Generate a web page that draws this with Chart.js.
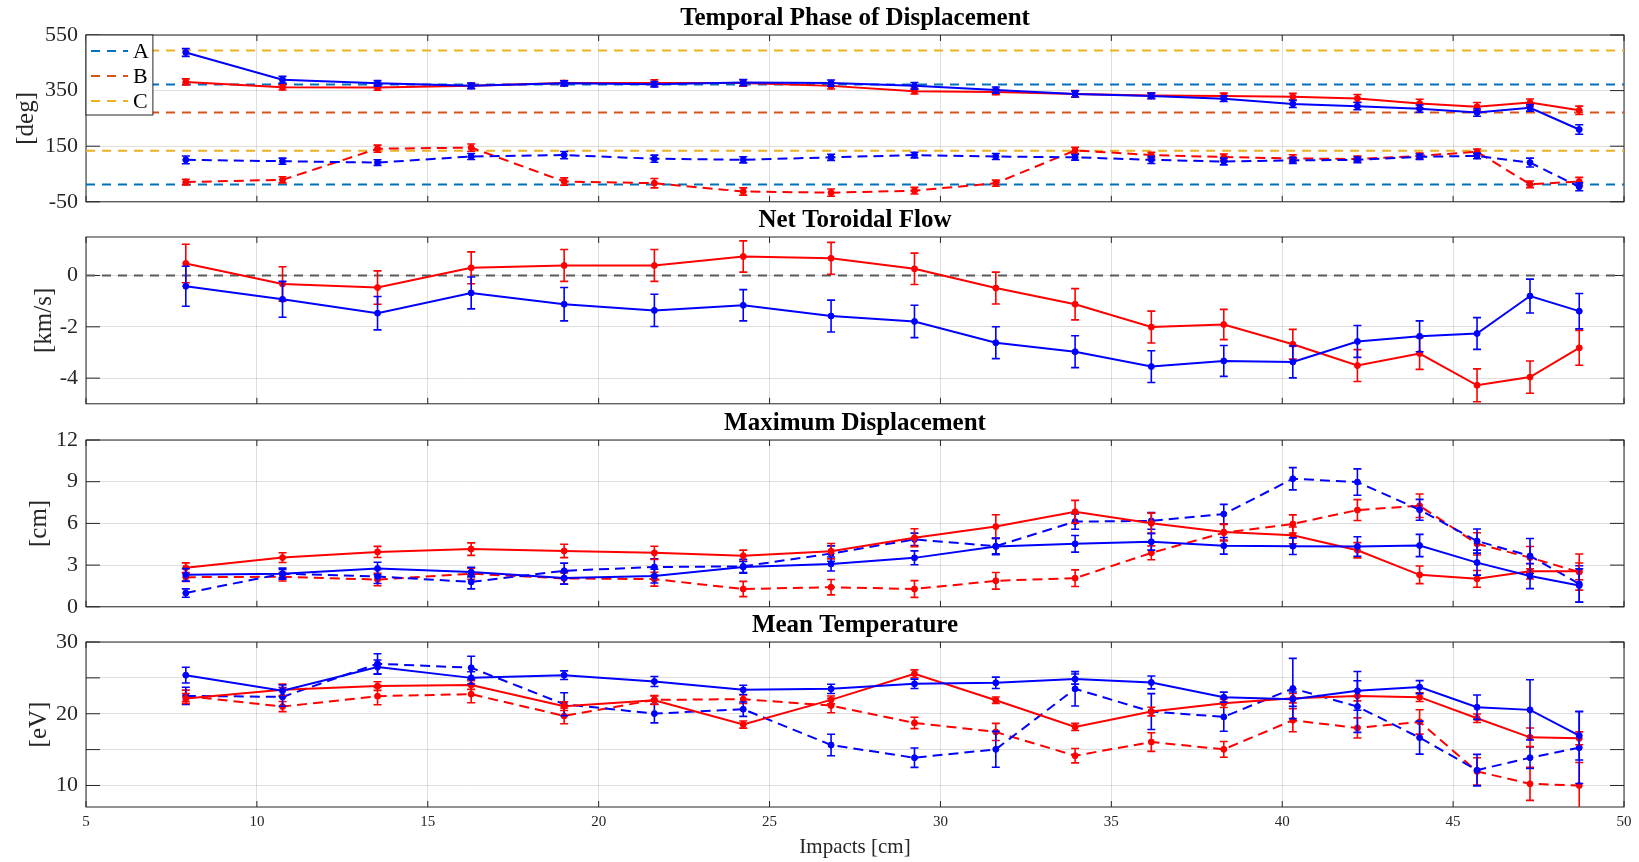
<!DOCTYPE html>
<html>
<head>
<meta charset="utf-8">
<title>Displacement, flow and temperature vs impact</title>
<script src="https://cdn.jsdelivr.net/npm/chart.js@4.4.1/dist/chart.umd.min.js"></script>
<style>
    html, body { margin: 0; padding: 0; background: #fff; }
    body { position: relative; width: 1639px; height: 862px; overflow: hidden; }
    canvas { position: absolute; left: 0; }
</style>
</head>
<body>
<canvas id="phase-chart" width="1639" height="223" style="top:0px"></canvas>
<canvas id="flow-chart" width="1639" height="223" style="top:202px"></canvas>
<canvas id="disp-chart" width="1639" height="223" style="top:405px"></canvas>
<canvas id="temp-chart" width="1639" height="255" style="top:607px"></canvas>
<script>

// impact positions [cm], shared by all four panels
const impacts = [7.92, 10.75, 13.53, 16.27, 18.99, 21.63, 24.23, 26.80, 29.24, 31.62,
                 33.94, 36.17, 38.29, 40.31, 42.20, 44.02, 45.70, 47.25, 48.69];
const impactRange = [5, 50];

// temporal phase [deg]
const phaseBlue = [487, 389, 376, 367, 376, 373, 379, 377, 367, 352, 338, 331, 321, 302, 294, 285, 271, 288, 210];
const phaseBlueErr = [14, 12, 10, 10, 9, 10, 11, 11, 12, 11, 11, 10, 10, 13, 13, 13, 13, 12, 17];
const phaseRed = [381, 362, 361, 367, 377, 377, 377, 367, 348, 345, 338, 332, 331, 328, 322, 304, 292, 307, 279];
const phaseRedErr = [11, 10, 10, 9, 9, 12, 11, 11, 10, 10, 12, 10, 10, 12, 14, 15, 15, 13, 15];
const phaseBlueDash = [101, 96, 91, 113, 118, 105, 101, 110, 118, 113, 110, 101, 95, 99, 101, 112, 115, 91, 4];
const phaseBlueDashErr = [14, 11, 10, 11, 13, 13, 11, 11, 10, 11, 10, 13, 12, 11, 10, 10, 10, 16, 14];
const phaseRedDash = [21, 29, 141, 145, 23, 17, -13, -17, -10, 17, 135, 118, 111, 106, 104, 115, 130, 13, 23];
const phaseRedDashErr = [10, 11, 13, 13, 13, 17, 13, 13, 12, 11, 11, 10, 11, 13, 11, 10, 10, 12, 15];
const phaseTicks = [-50, 150, 350, 550];
const refA = [12, 372];
const refB = [271];
const refC = [134, 494];

// net toroidal flow [km/s]
const flowRed = [0.47, -0.33, -0.47, 0.30, 0.39, 0.39, 0.74, 0.67, 0.26, -0.49, -1.12, -2.01, -1.91, -2.68, -3.51, -3.04, -4.28, -3.96, -2.82];
const flowRedErr = [0.75, 0.67, 0.65, 0.62, 0.62, 0.62, 0.61, 0.62, 0.61, 0.62, 0.61, 0.62, 0.59, 0.58, 0.62, 0.62, 0.64, 0.63, 0.68];
const flowBlue = [-0.42, -0.93, -1.47, -0.68, -1.12, -1.36, -1.16, -1.58, -1.79, -2.62, -2.97, -3.55, -3.33, -3.37, -2.57, -2.37, -2.26, -0.80, -1.39];
const flowBlueErr = [0.78, 0.70, 0.65, 0.62, 0.65, 0.63, 0.61, 0.62, 0.63, 0.62, 0.62, 0.62, 0.60, 0.62, 0.62, 0.60, 0.62, 0.66, 0.69];
const flowTicks = [-4, -2, 0];

// maximum displacement [cm]
const dispRed = [2.81, 3.54, 3.95, 4.15, 4.02, 3.88, 3.68, 4.00, 4.97, 5.77, 6.84, 6.01, 5.38, 5.14, 4.07, 2.30, 2.01, 2.55, 2.55];
const dispRedErr = [0.35, 0.35, 0.4, 0.45, 0.48, 0.48, 0.4, 0.55, 0.64, 0.85, 0.82, 0.73, 0.58, 0.6, 0.55, 0.63, 0.6, 0.55, 0.6];
const dispBlue = [2.30, 2.38, 2.76, 2.50, 2.08, 2.21, 2.86, 3.08, 3.52, 4.34, 4.53, 4.68, 4.39, 4.36, 4.34, 4.41, 3.18, 2.21, 1.53];
const dispBlueErr = [0.45, 0.4, 0.45, 0.35, 0.45, 0.5, 0.4, 0.5, 0.5, 0.6, 0.6, 0.6, 0.6, 0.6, 0.7, 0.8, 0.9, 0.9, 1.2];
const dispBlueDash = [0.99, 2.38, 2.18, 1.79, 2.59, 2.86, 2.91, 3.83, 4.85, 4.36, 6.13, 6.18, 6.67, 9.21, 8.97, 6.98, 4.73, 3.66, 1.65];
const dispBlueDashErr = [0.3, 0.3, 0.5, 0.5, 0.55, 0.6, 0.5, 0.55, 0.45, 0.55, 0.55, 0.6, 0.7, 0.8, 0.95, 0.75, 0.87, 1.25, 1.3];
const dispRedDash = [2.13, 2.16, 1.96, 2.38, 2.04, 1.99, 1.28, 1.41, 1.28, 1.87, 2.06, 3.88, 5.33, 5.96, 6.96, 7.27, 4.53, 3.54, 2.50];
const dispRedDashErr = [0.3, 0.3, 0.45, 0.4, 0.4, 0.5, 0.55, 0.55, 0.6, 0.6, 0.6, 0.5, 0.6, 0.65, 0.75, 0.85, 0.8, 0.8, 1.3];
const dispTicks = [0, 3, 6, 9, 12];

// mean temperature [eV]
const tempBlue = [25.38, 23.2, 26.5, 25.0, 25.38, 24.5, 23.33, 23.47, 24.17, 24.31, 24.83, 24.36, 22.31, 22.03, 23.19, 23.71, 20.91, 20.54, 16.95];
const tempBlueErr = [1.1, 0.8, 1.0, 0.85, 0.6, 0.7, 0.65, 0.65, 0.65, 0.8, 0.7, 0.9, 0.7, 1.0, 2.7, 0.9, 1.7, 4.2, 3.4];
const tempRed = [22.12, 23.33, 23.85, 23.99, 21.05, 21.89, 18.49, 21.93, 25.57, 21.89, 18.16, 20.30, 21.47, 22.17, 22.49, 22.31, 19.37, 16.71, 16.57];
const tempRedErr = [0.7, 0.8, 0.6, 0.6, 0.6, 0.6, 0.5, 0.55, 0.55, 0.45, 0.5, 0.6, 0.6, 0.65, 0.7, 0.6, 0.6, 1.3, 0.9];
const tempBlueDash = [22.49, 22.35, 26.97, 26.41, 21.33, 20.02, 20.63, 15.64, 13.87, 15.04, 23.47, 20.30, 19.56, 23.52, 21.0, 16.67, 12.14, 13.87, 15.27];
const tempBlueDashErr = [1.2, 1.3, 1.4, 1.6, 1.6, 1.3, 1.0, 1.5, 1.35, 2.5, 2.4, 2.5, 2.0, 4.2, 3.6, 2.3, 2.2, 1.5, 5.0];
const tempRedDash = [22.49, 21.0, 22.45, 22.73, 19.7, 21.93, 22.03, 21.14, 18.72, 17.46, 14.15, 16.06, 15.04, 19.09, 18.02, 18.86, 11.96, 10.23, 10.0];
const tempRedDashErr = [0.8, 0.7, 1.2, 1.2, 1.1, 0.6, 0.6, 1.0, 0.8, 1.2, 1.0, 1.3, 1.1, 1.6, 1.4, 1.7, 1.9, 2.3, 3.2];
const tempTicks = [10, 15, 20, 25, 30];


const serif = '"Liberation Serif", "Times New Roman", serif';
Chart.defaults.font.family = serif;
Chart.defaults.color = '#262626';

const blue = 'rgb(0, 0, 255)',
    red = 'rgb(255, 0, 0)',
    gridColor = 'rgba(38, 38, 38, 0.15)',
    plotLeft = 86;

function series(values, errors, color, dashed, order) {
    return {
        label: '',
        data: impacts.map((x, i) => ({x: x, y: values[i]})),
        errors: errors,
        borderColor: color,
        backgroundColor: color,
        borderWidth: 2,
        borderDash: dashed ? [10, 6] : [],
        pointRadius: 3,
        pointBorderWidth: 1,
        order: order
    };
}

// horizontal reference levels spanning the whole impact range
function hLines(label, levels, color, order) {
    const data = [];
    levels.forEach(v => {
        data.push({x: impactRange[0], y: v}, {x: impactRange[1], y: v}, {x: impactRange[1], y: null});
    });
    return {
        label: label,
        data: data,
        borderColor: color,
        backgroundColor: color,
        borderWidth: 2,
        borderDash: [9, 7],
        pointRadius: 0,
        order: order
    };
}

// vertical error bars with caps
const errorBars = {
    id: 'errorBars',
    afterDatasetDraw(chart, args) {
        const ds = chart.data.datasets[args.index];
        if (!ds.errors) return;
        const ctx = chart.ctx, y = chart.scales.y, a = chart.chartArea;
        ctx.save();
        ctx.beginPath();
        ctx.rect(a.left, a.top, a.width, a.height);
        ctx.clip();
        ctx.strokeStyle = ds.borderColor;
        ctx.lineWidth = 1.6;
        ctx.setLineDash([]);
        args.meta.data.forEach((pt, i) => {
            const v = ds.data[i].y, e = ds.errors[i];
            const top = y.getPixelForValue(v + e), bot = y.getPixelForValue(v - e);
            ctx.beginPath();
            ctx.moveTo(pt.x, top); ctx.lineTo(pt.x, bot);
            ctx.moveTo(pt.x - 4, top); ctx.lineTo(pt.x + 4, top);
            ctx.moveTo(pt.x - 4, bot); ctx.lineTo(pt.x + 4, bot);
            ctx.stroke();
        });
        ctx.restore();
    }
};

// closed axes box with inward tick marks
const axesBox = {
    id: 'axesBox',
    beforeDatasetsDraw(chart) {
        const {ctx, chartArea: a, scales} = chart;
        ctx.save();
        ctx.strokeStyle = '#262626';
        ctx.lineWidth = 1;
        ctx.strokeRect(a.left, a.top, a.width, a.height);
        ctx.beginPath();
        scales.x.ticks.forEach(t => {
            const px = scales.x.getPixelForValue(t.value);
            ctx.moveTo(px, a.top); ctx.lineTo(px, a.top + 6);
            ctx.moveTo(px, a.bottom); ctx.lineTo(px, a.bottom - 6);
        });
        scales.y.ticks.forEach(t => {
            const py = scales.y.getPixelForValue(t.value);
            ctx.moveTo(a.left, py); ctx.lineTo(a.left + 14, py);
            ctx.moveTo(a.right, py); ctx.lineTo(a.right - 14, py);
        });
        ctx.stroke();
        ctx.restore();
    }
};

// framed legend in the top left corner, drawn over the reference lines
const cornerLegend = {
    id: 'cornerLegend',
    afterDatasetsDraw(chart) {
        const ctx = chart.ctx, a = chart.chartArea;
        const items = chart.data.datasets.filter(ds => ds.label);
        if (!items.length) return;
        ctx.save();
        ctx.font = '22px ' + serif;
        const textW = Math.max(...items.map(ds => ctx.measureText(ds.label).width));
        const w = 47 + textW + 4, h = 80;
        ctx.fillStyle = '#fff';
        ctx.fillRect(a.left, a.top, w, h);
        ctx.strokeStyle = '#262626';
        ctx.lineWidth = 1;
        ctx.strokeRect(a.left, a.top, w, h);
        ctx.textBaseline = 'middle';
        items.forEach((ds, i) => {
            const y = a.top + 16 + i * 25;
            ctx.strokeStyle = ds.borderColor;
            ctx.lineWidth = ds.borderWidth;
            ctx.setLineDash(ds.borderDash);
            ctx.beginPath();
            ctx.moveTo(a.left + 5, y);
            ctx.lineTo(a.left + 42, y);
            ctx.stroke();
            ctx.setLineDash([]);
            ctx.fillStyle = '#000';
            ctx.fillText(ds.label, a.left + 47, y + 1);
        });
        ctx.restore();
    }
};

function panel(id, o) {
    return new Chart(document.getElementById(id), {
        type: 'line',
        data: { datasets: o.datasets },
        options: {
            responsive: false,
            animation: false,
            events: [],
            layout: {
                padding: { left: o.padLeft, right: 15, top: 3.5, bottom: o.padBottom }
            },
            plugins: {
                title: {
                    display: true,
                    text: o.title,
                    fullSize: false,
                    color: '#000',
                    font: { size: 25, weight: 'bold' },
                    padding: { top: 0, bottom: 1.5 }
                },
                legend: { display: false },
                tooltip: { enabled: false }
            },
            scales: {
                x: {
                    type: 'linear',
                    min: impactRange[0],
                    max: impactRange[1],
                    // fixed band under the plot: tick labels + axis title on the last panel only
                    afterFit: s => { s.height = o.showX ? 52.6 : 14; },
                    ticks: { stepSize: 5, display: !!o.showX, padding: 6, maxRotation: 0, font: { size: 15 } },
                    grid: { color: gridColor, drawTicks: false },
                    border: { display: false },
                    title: {
                        display: !!o.showX,
                        text: 'Impacts [cm]',
                        font: { size: 21 },
                        padding: { top: 3.4, bottom: 0 }
                    }
                },
                y: {
                    min: o.range[0],
                    max: o.range[1],
                    afterBuildTicks: s => { s.ticks = o.ticks.map(v => ({ value: v })); },
                    afterFit: s => { s.width = plotLeft - o.padLeft; },
                    ticks: {
                        padding: 8,
                        font: { size: 22 },
                        callback: o.tickLabel || (v => String(v))
                    },
                    grid: { color: gridColor, drawTicks: false },
                    border: { display: false },
                    title: { display: true, text: o.unit, font: { size: 25 }, padding: 0 }
                }
            }
        },
        plugins: [axesBox, errorBars].concat(o.extra || [])
    });
}


const phaseChart = panel('phase-chart', {
    title: 'Temporal Phase of Displacement',
    unit: '[deg]',
    range: [-50, 550],
    ticks: phaseTicks,
    padLeft: 11,
    padBottom: 0,
    datasets: [
        hLines('A', refA, 'rgb(0, 114, 189)', 10),
        hLines('B', refB, 'rgb(217, 83, 25)', 11),
        hLines('C', refC, 'rgb(237, 177, 32)', 12),
        series(phaseRedDash, phaseRedDashErr, red, true, 4),
        series(phaseBlueDash, phaseBlueDashErr, blue, true, 3),
        series(phaseRed, phaseRedErr, red, false, 2),
        series(phaseBlue, phaseBlueErr, blue, false, 1)
    ],
    extra: [cornerLegend]
});

const flowChart = panel('flow-chart', {
    title: 'Net Toroidal Flow',
    unit: '[km/s]',
    range: [-5, 1.5],
    ticks: flowTicks,
    padLeft: 29,
    padBottom: 0,
    datasets: [
        hLines('', [0], 'rgb(90, 90, 90)', 10),
        series(flowRed, flowRedErr, red, false, 2),
        series(flowBlue, flowBlueErr, blue, false, 1)
    ]
});

const dispChart = panel('disp-chart', {
    title: 'Maximum Displacement',
    unit: '[cm]',
    range: [0, 12],
    ticks: dispTicks,
    padLeft: 24,
    padBottom: 0,
    datasets: [
        series(dispRedDash, dispRedDashErr, red, true, 4),
        series(dispBlueDash, dispBlueDashErr, blue, true, 3),
        series(dispRed, dispRedErr, red, false, 2),
        series(dispBlue, dispBlueErr, blue, false, 1)
    ]
});

const tempChart = panel('temp-chart', {
    title: 'Mean Temperature',
    unit: '[eV]',
    range: [7, 30],
    ticks: tempTicks,
    tickLabel: v => (v % 10 === 0 ? String(v) : ''),
    padLeft: 24,
    padBottom: 2.4,
    showX: true,
    datasets: [
        series(tempRedDash, tempRedDashErr, red, true, 4),
        series(tempBlueDash, tempBlueDashErr, blue, true, 3),
        series(tempRed, tempRedErr, red, false, 2),
        series(tempBlue, tempBlueErr, blue, false, 1)
    ]
});

</script>
</body>
</html>
